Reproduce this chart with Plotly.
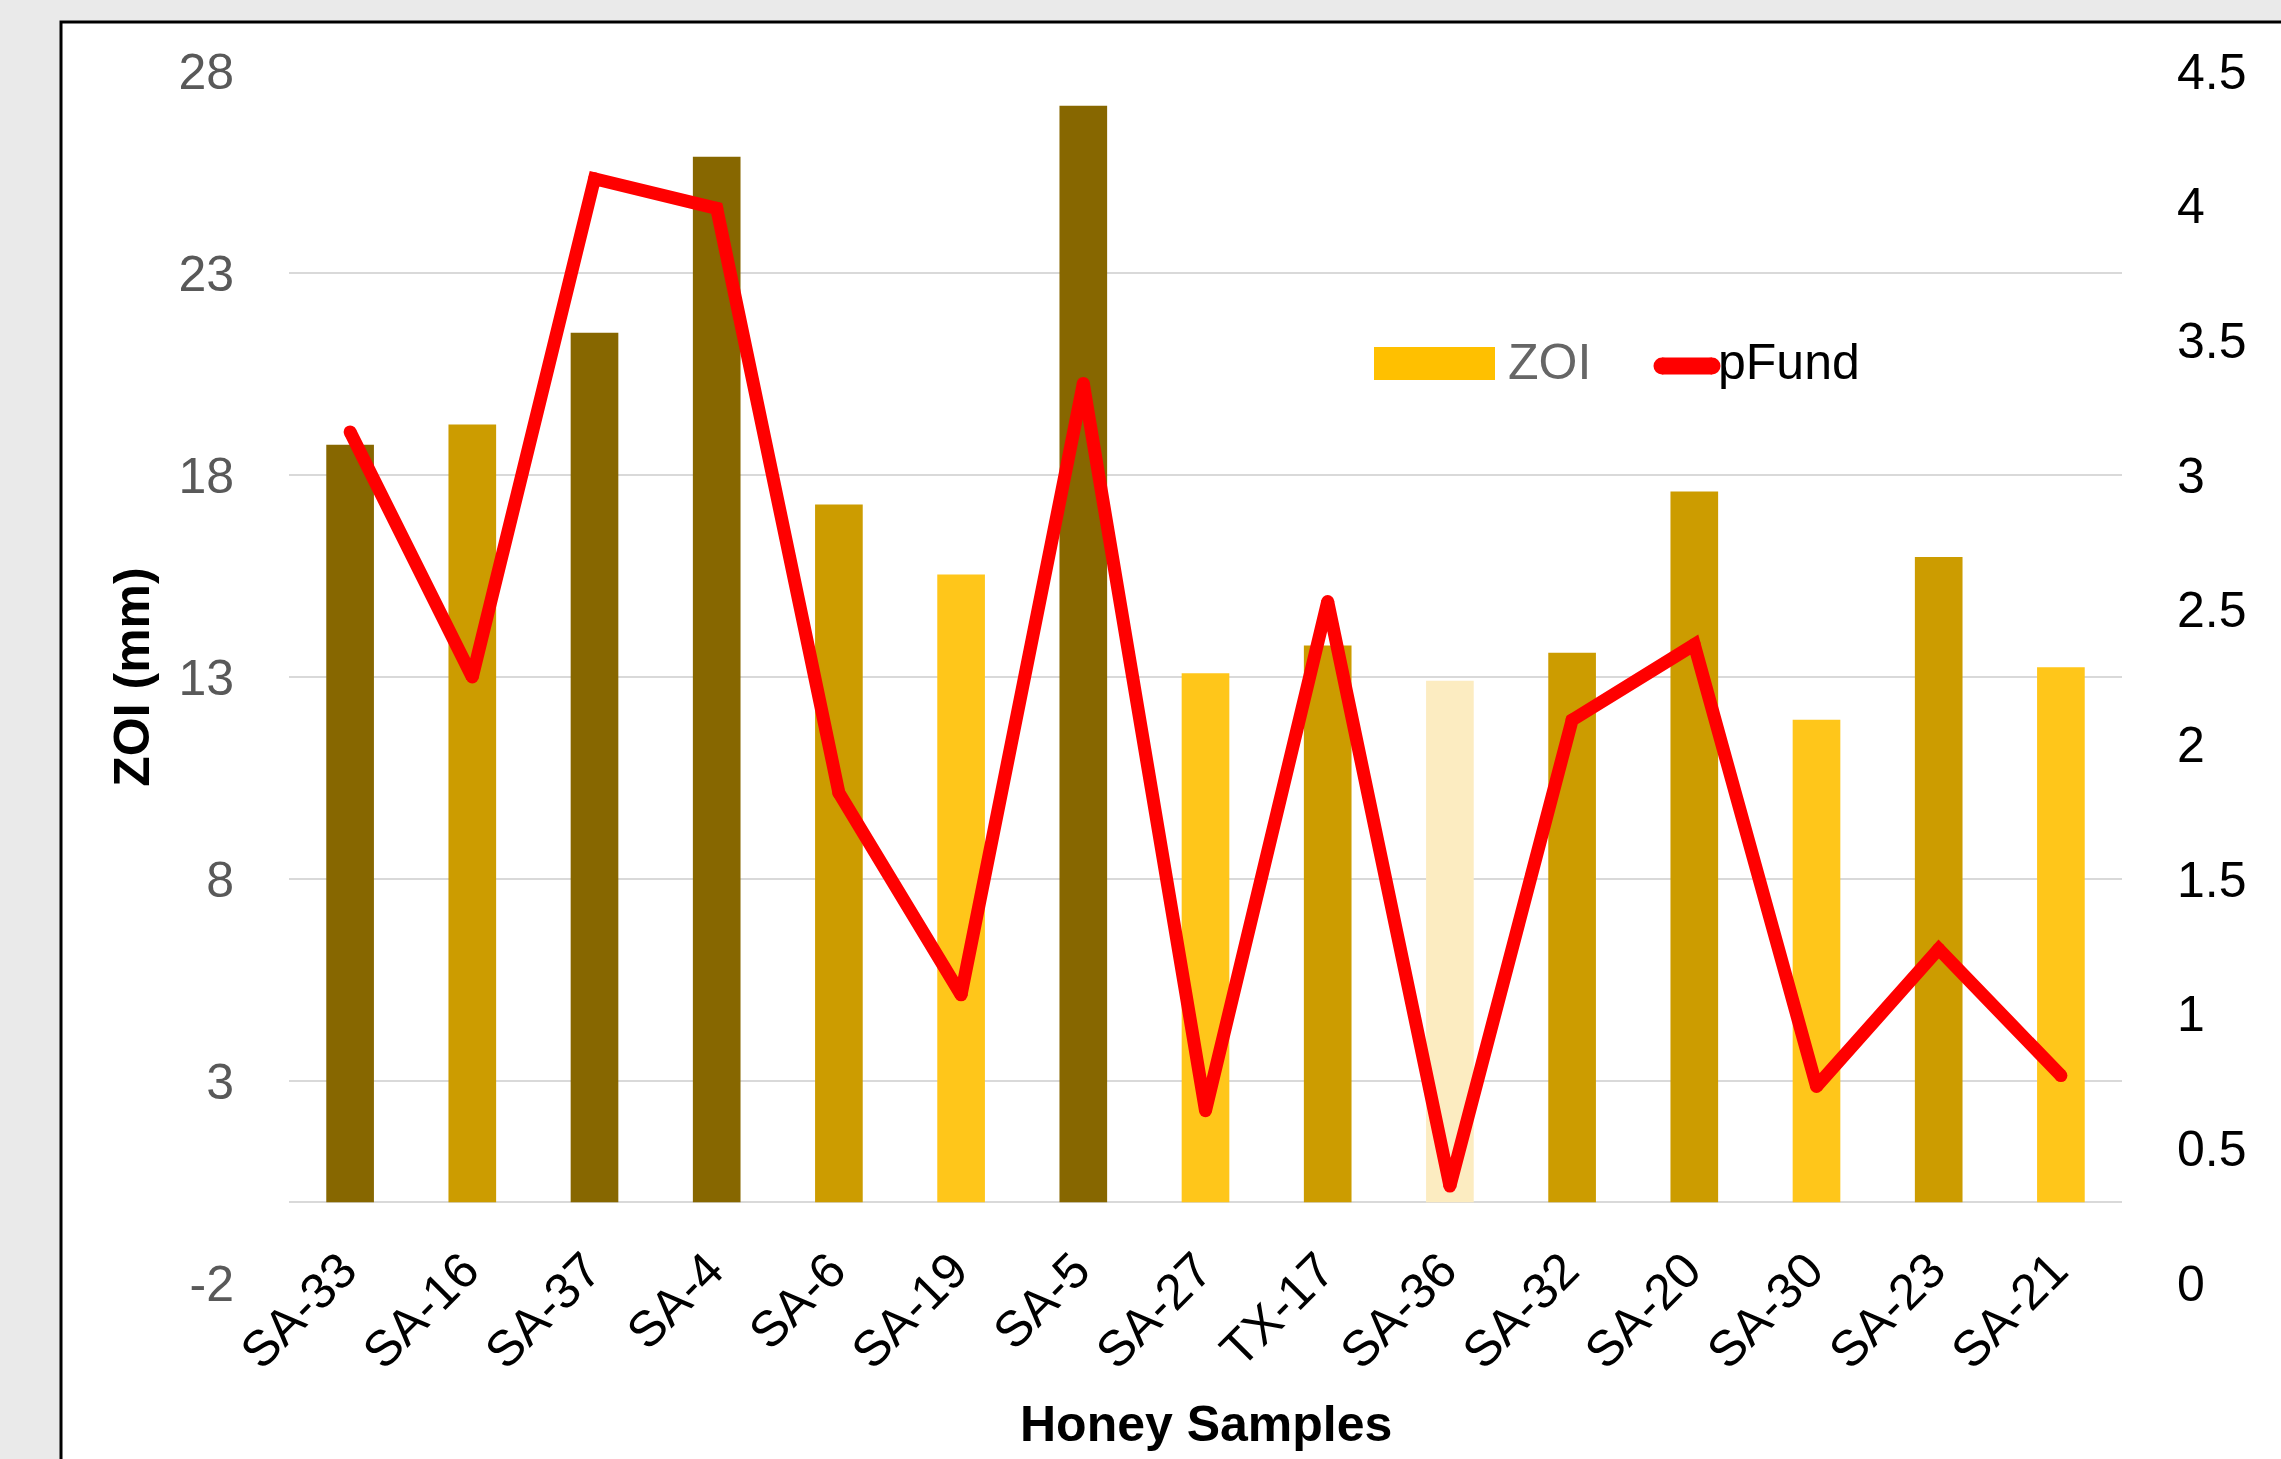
import plotly.graph_objects as go

samples = ["SA-33", "SA-16", "SA-37", "SA-4", "SA-6", "SA-19", "SA-5", "SA-27",
           "TX-17", "SA-36", "SA-32", "SA-20", "SA-30", "SA-23", "SA-21"]
zoi = [18.75, 19.25, 21.52, 25.88, 17.27, 15.54, 27.14, 13.09,
       13.78, 12.91, 13.60, 17.59, 11.94, 15.97, 13.24]
pfund = [3.16, 2.25, 4.10, 3.99, 1.82, 1.07, 3.34, 0.64,
         2.53, 0.36, 2.09, 2.37, 0.73, 1.24, 0.77]
zoi_ticks = [-2, 3, 8, 13, 18, 23, 28]
zoi_tick_labels = ["-2", "3", "8", "13", "18", "23", "28"]

DARK, GOLD, YEL, PALE = "#876700", "#CC9C00", "#FFC61A", "#FCECC1"
bar_colors = [DARK, GOLD, DARK, DARK, GOLD, YEL, DARK, YEL,
              GOLD, PALE, GOLD, GOLD, YEL, GOLD, YEL]

W, H = 2281, 1459
L, R, T, B = 289, 159, 71, 176
pw, ph = W - L - R, H - T - B


def px_x(x):
    return (x - L) / pw


def px_y(y):
    return (H - B - y) / ph


fig = go.Figure()
fig.add_trace(go.Bar(x=samples, y=zoi, marker=dict(color=bar_colors, line=dict(width=0)),
                     name="ZOI", showlegend=False))
fig.add_trace(go.Scatter(x=samples, y=pfund, yaxis="y2", mode="lines+markers",
                         line=dict(color="#FF0000", width=13),
                         marker=dict(color="#FF0000", size=13),
                         name="pFund", showlegend=False))

font = "Liberation Sans, Arial, sans-serif"

shapes = [
    # chart frame
    dict(type="rect", xref="paper", yref="paper", x0=px_x(61), x1=px_x(2400),
         y0=px_y(1600), y1=px_y(22), line=dict(color="black", width=3),
         fillcolor="white", layer="below"),
    # legend swatches
    dict(type="rect", xref="paper", yref="paper", x0=px_x(1374), x1=px_x(1495),
         y0=px_y(380), y1=px_y(347), line=dict(width=0), fillcolor="#FFC000"),
    dict(type="line", xref="paper", yref="paper", x0=px_x(1662), x1=px_x(1712),
         y0=px_y(366), y1=px_y(366), line=dict(color="#FF0000", width=17)),
]
for xc in (1662, 1712):
    shapes.append(dict(type="circle", xref="paper", yref="paper",
                       x0=px_x(xc - 8.5), x1=px_x(xc + 8.5),
                       y0=px_y(366 + 8.5), y1=px_y(366 - 8.5),
                       line=dict(width=0), fillcolor="#FF0000"))

annotations = [
    dict(text="ZOI", xref="paper", yref="paper", x=px_x(1506), y=px_y(362),
         xanchor="left", yanchor="middle", showarrow=False,
         font=dict(family=font, size=50, color="#666666")),
    dict(text="pFund", xref="paper", yref="paper", x=px_x(1716), y=px_y(362),
         xanchor="left", yanchor="middle", showarrow=False,
         font=dict(family=font, size=50, color="black")),
    dict(text="<b>Honey Samples</b>", xref="paper", yref="paper", x=0.5, y=px_y(1424),
         xanchor="center", yanchor="middle", showarrow=False,
         font=dict(family=font, size=50, color="black")),
]

fig.update_layout(
    width=W, height=H, autosize=False,
    margin=dict(l=L, r=R, t=T, b=B, pad=0),
    paper_bgcolor="#EAEAEA", plot_bgcolor="rgba(0,0,0,0)",
    bargap=0.61,
    shapes=shapes, annotations=annotations,
    xaxis=dict(type="category", range=[-0.5, len(samples) - 0.5],
               showgrid=False, showline=False, zeroline=False,
               ticks="", tickangle=-45, anchor="free", position=0.044,
               ticklabelshift=-8,
               tickfont=dict(family=font, size=50, color="black")),
    yaxis=dict(range=[-2, 28], tickvals=zoi_ticks, ticktext=zoi_tick_labels,
               showgrid=True, gridcolor="#D9D9D9", gridwidth=2, zeroline=True,
               zerolinecolor="#D9D9D9", zerolinewidth=2, showline=False, ticks="",
               ticklabelstandoff=54,
               tickfont=dict(family=font, size=50, color="#595959"),
               title=dict(text="<b>ZOI (mm)</b>", standoff=12,
                          font=dict(family=font, size=50, color="black"))),
    yaxis2=dict(range=[0, 4.5], dtick=0.5, tick0=0, overlaying="y", side="right",
                showgrid=False, zeroline=False, showline=False, ticks="",
                ticklabelstandoff=54,
                tickfont=dict(family=font, size=50, color="black")),
)

fig.write_html("out.html", config={"displayModeBar": False},
               post_script="document.body.style.margin='0px';"
                           "document.body.style.overflow='hidden';")
